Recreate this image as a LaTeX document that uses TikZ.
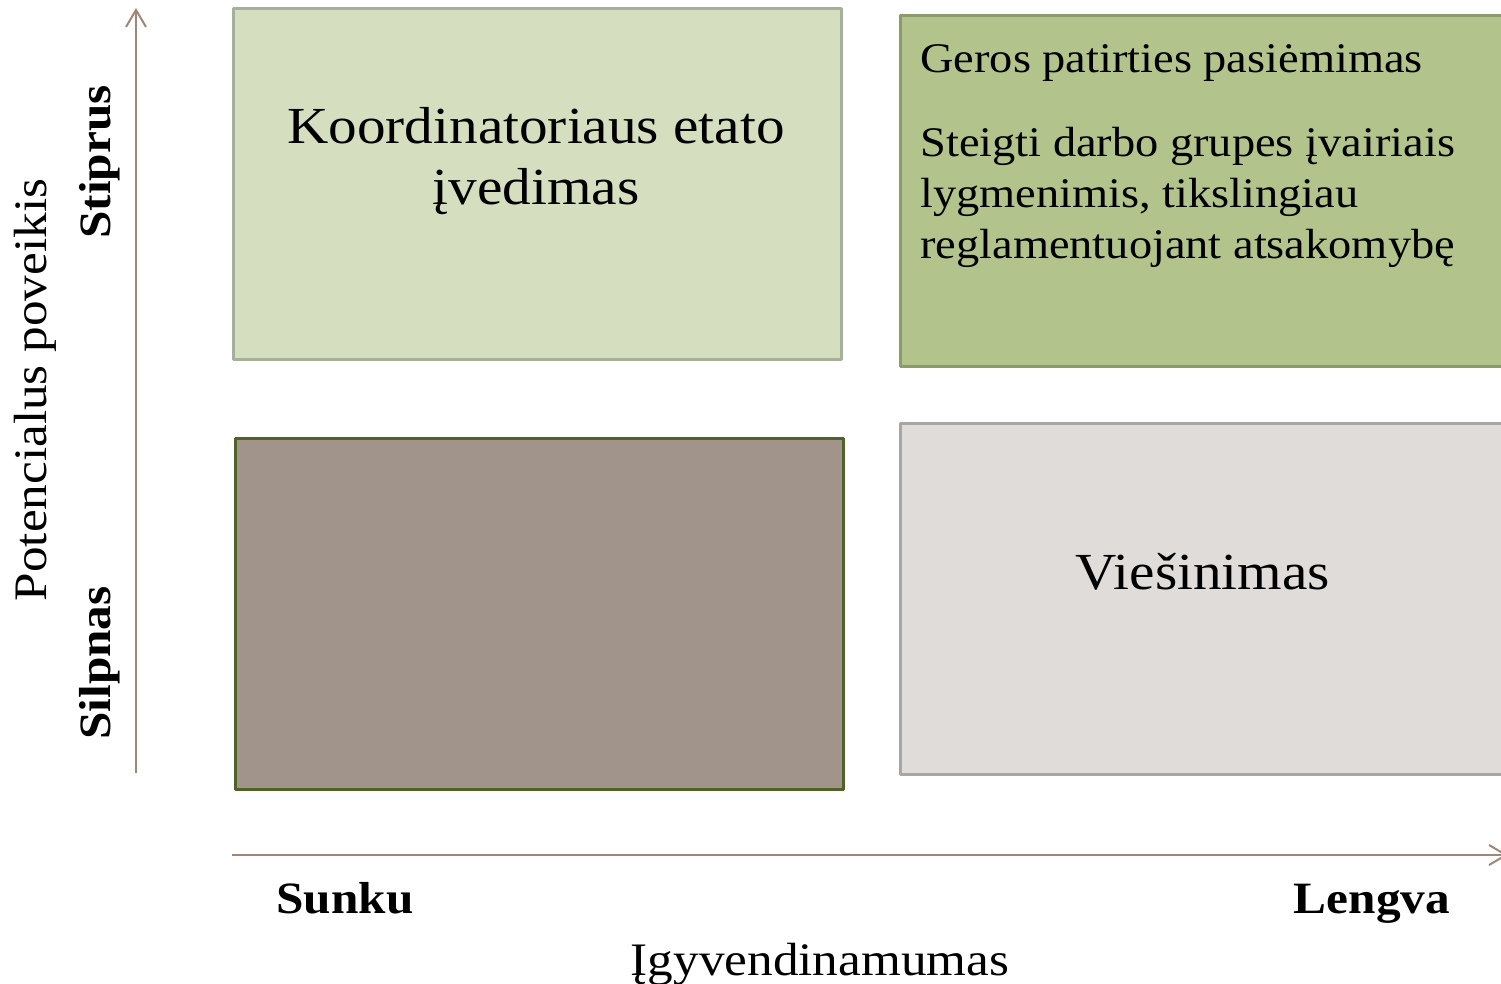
\documentclass[tikz,border=0pt]{standalone}
\usepackage{fontspec}
\setmainfont{Liberation Serif}[FakeStretch=1.1]
\usetikzlibrary{arrows.meta}
\definecolor{palegreen}{HTML}{D5DFC0}
\definecolor{paleedge}{HTML}{A6AF99}
\definecolor{midgreen}{HTML}{B2C48B}
\definecolor{midedge}{HTML}{8C9B6D}
\definecolor{taupe}{HTML}{A1958B}
\definecolor{taupeedge}{HTML}{4F6228}
\definecolor{lightgrey}{HTML}{E0DCD9}
\definecolor{greyedge}{HTML}{A6A6A6}
\definecolor{axisbrown}{HTML}{9E8779}
\begin{document}
\begin{tikzpicture}[x=0.2mm, y=-0.2mm, line join=round,
	>={Straight Barb[length=3.4mm,width=4mm]},
	box/.style={draw, line width=0.6mm, anchor=north west, inner sep=0pt,
		minimum width=608*0.2mm, minimum height=351*0.2mm},
	axis/.style={draw=axisbrown, line width=0.4mm},
	big/.style={font=\fontsize{29.6}{35}\selectfont},
	title/.style={font=\fontsize{26.5}{32}\selectfont},
	mid/.style={font=\fontsize{24}{29}\selectfont, align=left, inner sep=0pt},
	heavy/.style={font=\fontsize{25.5}{30}\selectfont\bfseries}]
	\useasboundingbox (0,0) rectangle (1501,984);
	% quadrants
	\node[box, fill=palegreen, draw=paleedge] (hardstrong) at (232,7) {};
	\node[box, fill=midgreen, draw=midedge, minimum width=620*0.2mm] (easystrong) at (899,14) {};
	\node[box, fill=taupe, draw=taupeedge] (hardweak) at (234,437) {};
	\node[box, fill=lightgrey, draw=greyedge, minimum width=620*0.2mm] (easyweak) at (899,422) {};
	% texts in the quadrants
	\node[big, align=center] (koord) at (536,161) {Koordinatoriaus etato\\įvedimas};
	\node[mid, anchor=base west] (geros) at (920,72) {Geros patirties pasiėmimas};
	\node[mid, anchor=north west] (steigti) at (920,127)
		{Steigti darbo grupes įvairiais\\lygmenimis, tikslingiau\\reglamentuojant atsakomybę};
	\node[big] (viesin) at (1203,572) {Viešinimas};
	% axes
	\path
	(136,773) coordinate (ylow)
	(136,8) coordinate (yhigh)
	(232,855) coordinate (xlow)
	(1508,855) coordinate (xhigh);
	\draw[axis,->] (ylow)--(yhigh);
	\draw[axis,->] (xlow)--(xhigh);
	% axis labels
	\node[title, rotate=90] (potenc) at (35,390) {Potencialus poveikis};
	\node[heavy, rotate=90] (stiprus) at (100,162) {Stiprus};
	\node[heavy, rotate=90] (silpnas) at (100,663) {Silpnas};
	\node[heavy, anchor=base] (sunku) at (345,913) {Sunku};
	\node[heavy, anchor=base] (lengva) at (1372,913) {Lengva};
	\node[title, anchor=base] (igyvend) at (820,975) {Įgyvendinamumas};
\end{tikzpicture}
\end{document}
